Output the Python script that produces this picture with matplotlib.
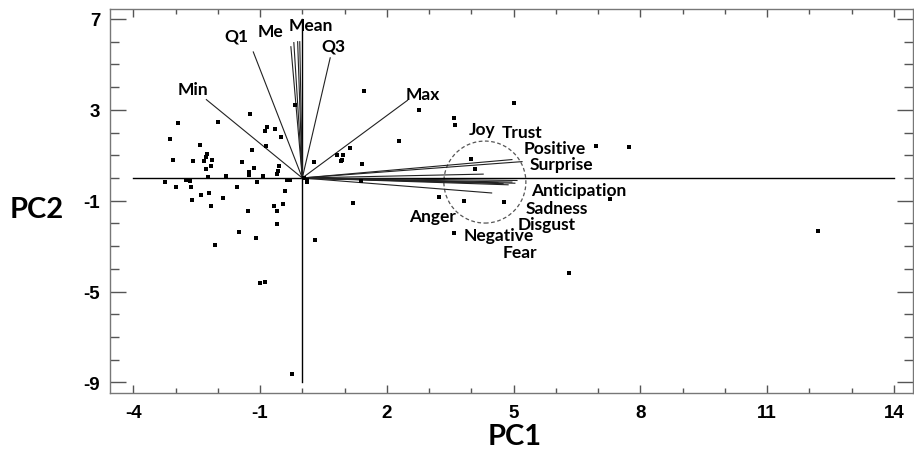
import matplotlib
matplotlib.use('Agg')
import matplotlib.pyplot as plt
from matplotlib.patches import Ellipse
from matplotlib.ticker import FixedLocator, MultipleLocator

plt.rcParams['axes.unicode_minus'] = False

# PC scores (observations)
pc1_scores = [-1.23, -2.95, -2.00, -3.12, -0.83, -0.89, -0.64, -0.50, -0.17, -2.43,
              -0.87, -1.19, -2.25, -2.28, -2.32, -2.13, -3.06, -2.58, -2.17, -2.27,
              -1.42, -1.15, -1.26, -1.27, -0.54, -0.57, -0.60, -0.93, -1.81, -2.23,
              -0.36, -0.28, -3.25, -2.74, -2.66, -1.08, -2.98, -2.63, -1.55, -2.60,
              -2.39, -2.20, -1.87, -2.17, -1.28, -0.42, -0.66, -0.60, -0.45, -0.60,
              -1.50, -1.09, -2.06, -0.99, -0.89, -0.24, 0.31, 1.21, 1.46, 2.76,
              3.60, 3.61, 5.02, 2.29, 1.13, 0.82, 0.96, 0.91, 0.94, 1.42,
              0.28, 3.99, 4.09, 6.96, 7.72, 7.28, 3.24, 3.83, 4.78, 3.59,
              6.30, 1.39, 12.20, 0.03, 0.11, 0.11]
pc2_scores = [2.83, 2.41, 2.47, 1.73, 2.26, 2.08, 2.16, 1.81, 3.20, 1.45,
              1.41, 1.25, 1.07, 0.93, 0.73, 0.78, 0.78, 0.75, 0.53, 0.41,
              0.69, 0.45, 0.28, 0.13, 0.53, 0.29, 0.19, 0.07, 0.10, 0.03,
              -0.07, -0.07, -0.16, -0.07, -0.13, -0.16, -0.38, -0.38, -0.41, -0.99,
              -0.75, -0.68, -0.88, -1.23, -1.44, -0.56, -1.23, -1.45, -1.16, -2.04,
              -2.40, -2.64, -2.97, -4.63, -4.56, -8.61, -2.75, -1.09, 3.81, 3.01,
              2.64, 2.35, 3.32, 1.64, 1.33, 1.03, 1.00, 0.75, 0.79, 0.63,
              0.70, 0.84, 0.40, 1.41, 1.37, -0.91, -0.84, -1.03, -1.06, -2.42,
              -4.19, -0.12, -2.33, 0.00, -0.10, -0.18]

# loading vectors (end points)
stat_pc1 = [-2.27, -1.16, -0.27, -0.20, -0.11, -0.06, 0.66, 2.49]
stat_pc2 = [3.45, 5.55, 5.78, 5.96, 6.00, 6.00, 5.29, 3.42]
emo_pc1 = [5.20, 4.96, 4.28, 5.08, 4.96, 4.87, 4.75, 4.63, 5.03, 4.48]
emo_pc2 = [0.72, 0.81, 0.17, -0.11, -0.18, -0.30, -0.25, -0.21, -0.23, -0.66]

# variable labels
var_names = ['Min', 'Q1', 'Me', 'Mean', 'Q3', 'Max', 'Joy', 'Trust', 'Positive',
             'Surprise', 'Anticipation', 'Sadness', 'Disgust', 'Negative', 'Fear', 'Anger']
name_x = [-2.58, -1.56, -0.76, 0.21, 0.73, 2.86, 4.25, 5.20, 5.98,
          6.14, 6.53, 6.02, 5.78, 4.64, 5.15, 3.09]
name_y = [3.93, 6.28, 6.45, 6.72, 5.84, 3.71, 2.17, 2.03, 1.33,
          0.60, -0.52, -1.31, -2.04, -2.53, -3.27, -1.67]

x_major = [-4, -1, 2, 5, 8, 11, 14]
y_major = [7, 3, -1, -5, -9]

fig = plt.figure(figsize=(9.14, 4.6), dpi=100)
ax = fig.add_axes([110 / 914, 1 - 394.3 / 460, 803 / 914, 384.3 / 460])

# axis lines through the origin
ax.plot([-4, 14], [0, 0], color='black', lw=1)
ax.plot([0, 0], [-9, 7], color='black', lw=1)

for x, y in zip(stat_pc1 + emo_pc1, stat_pc2 + emo_pc2):
    ax.plot([0, x], [0, y], color='#222222', lw=0.8)

ax.scatter(pc1_scores, pc2_scores, marker='s', s=11, color='black', zorder=3, linewidths=0)

ax.add_patch(Ellipse((4.32, -0.18), 1.94, 3.61, fill=False, ls=(0, (3, 2)),
                     edgecolor='#555555', lw=0.9))

for name, x, y in zip(var_names, name_x, name_y):
    ax.text(x, y, name, ha='center', va='center', fontsize=12.5,
            fontfamily='Lato', fontweight='bold')

ax.set_xlim(-4.55, 14.45)
ax.set_ylim(-9.48, 7.44)
ax.xaxis.set_major_locator(FixedLocator(x_major))
ax.xaxis.set_minor_locator(MultipleLocator(1))
ax.yaxis.set_major_locator(FixedLocator(y_major))
ax.yaxis.set_minor_locator(MultipleLocator(1))

ax.tick_params(axis='both', which='both', direction='in', colors='#555555',
               top=True, right=True, width=1)
ax.tick_params(axis='x', which='major', length=6, pad=8)
ax.tick_params(axis='x', which='minor', length=3.6)
ax.tick_params(axis='y', which='major', length=11.5, pad=7)
ax.tick_params(axis='y', which='minor', length=6.5)
for lab in ax.get_xticklabels() + ax.get_yticklabels():
    lab.set_fontfamily('Liberation Sans')
    lab.set_fontweight('bold')
    lab.set_fontsize(13.5)
    lab.set_color('black')

for sp in ax.spines.values():
    sp.set_color('#777777')
    sp.set_linewidth(1)

fig.text(515 / 914, 1 - 437 / 460, 'PC1', ha='center', va='center',
         fontsize=21, fontfamily='Lato', fontweight='bold')
fig.text(36.7 / 914, 1 - 210 / 460, 'PC2', ha='center', va='center',
         fontsize=21, fontfamily='Lato', fontweight='bold')

fig.savefig('out.png', dpi=100)
